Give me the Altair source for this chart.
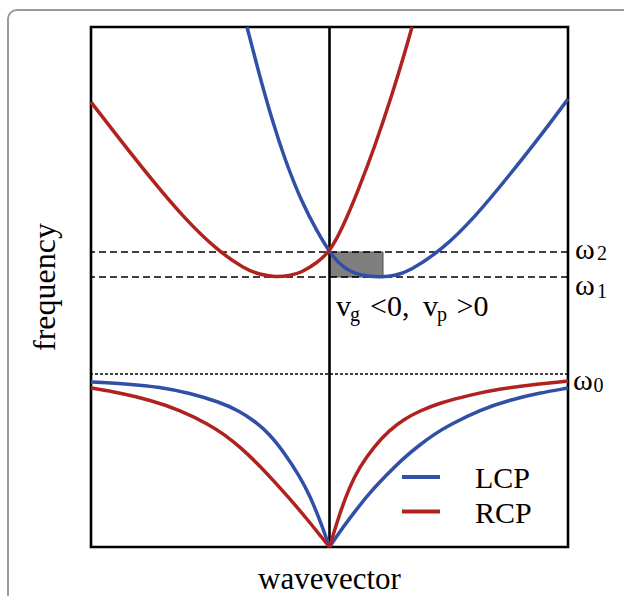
import altair as alt
import pandas as pd

# ---- curve readings (k = wavevector, w = frequency, arbitrary units) ----
lcp_up_k = [-82.5, -71.5, -57.5, -44.5, -27.5, -11.5, 0, 10, 20, 30, 40, 52.5, 65, 78.5, 112.5, 145.5, 178.5, 212.5, 238.5]
lcp_up_w = [520, 477, 427, 387, 344, 314, 295, 283, 276, 272.3, 270.5, 270, 271.5, 275, 297, 330, 370, 413, 448]

rcp_up_k = [-238.5, -211.5, -177.5, -144.5, -111.5, -84.5, -70, -54.5, -40, -28, -12.8, 0, 12.5, 28.5, 45.5, 62.5, 75.5, 82.5]
rcp_up_w = [445, 410, 367, 328, 296, 278, 272.5, 270, 271.2, 274.5, 284, 295, 318, 356, 401, 452, 495, 520]

lcp_lo_left_k = [-238.5, -200, -170, -140, -110, -90, -75, -60, -45, -30, -20, -10, 0]
lcp_lo_left_w = [165, 163, 160, 154, 145, 136, 126, 113, 94, 71, 52, 28, 0]
lcp_lo_right_k = [0, 10, 25, 40, 57, 73, 90, 105, 120, 150, 180, 210, 238.5]
lcp_lo_right_w = [0, 15, 35, 54, 72, 88, 102, 113, 122, 137, 147, 154, 159]

rcp_lo_left_k = [-238.5, -209.5, -179.5, -149.5, -119.5, -104.5, -89.5, -72.5, -56.5, -39.5, -22.5, -6.5, 0]
rcp_lo_left_w = [159, 154, 147, 137, 122, 112, 100, 84, 67, 48, 28, 8, 0]
rcp_lo_right_k = [0, 10, 20, 30, 45, 60, 75, 90, 110, 140, 170, 200, 238.5]
rcp_lo_right_w = [0, 33, 60, 80, 101, 117, 128, 136, 144, 152, 158, 162, 166]

# characteristic frequencies
omega_names = ["ω2", "ω1", "ω0"]
omega_values = [295, 270, 173]

# group-velocity box (between k=0 and LCP minimum, between ω1 and ω2)
box_k = [0, 53.5]
box_w = [270, 295]

series = ["LCP", "RCP"]
colors = ["#3050a8", "#b0221e"]

rows = []
def add(name, seg, ks, ws):
    for k, w in zip(ks, ws):
        rows.append({"k": k, "w": w, "pol": name, "seg": seg})

add("LCP", "LCP_up", lcp_up_k, lcp_up_w)
add("RCP", "RCP_up", rcp_up_k, rcp_up_w)
add("LCP", "LCP_lo_l", lcp_lo_left_k, lcp_lo_left_w)
add("LCP", "LCP_lo_r", lcp_lo_right_k, lcp_lo_right_w)
add("RCP", "RCP_lo_l", rcp_lo_left_k, rcp_lo_left_w)
add("RCP", "RCP_lo_r", rcp_lo_right_k, rcp_lo_right_w)
curves = pd.DataFrame(rows)

xs = alt.Scale(domain=[-238.5, 238.5], nice=False, zero=False)
ys = alt.Scale(domain=[0, 520], nice=False, zero=False)
X = lambda f: alt.X(f, type="quantitative", scale=xs, axis=None)
Y = lambda f: alt.Y(f, type="quantitative", scale=ys, axis=None)
color = alt.Color("pol:N", scale=alt.Scale(domain=series, range=colors), legend=None)

FONT = "Liberation Serif"

# outer figure frame (decoration)
frame = alt.Chart(alt.Data(values=[{}])).mark_rect(
    fillOpacity=0, stroke="#9a9a9a", strokeWidth=2, cornerRadius=9
).encode(x=alt.value(-83), x2=alt.value(560), y=alt.value(-17), y2=alt.value(600))

box = alt.Chart(pd.DataFrame({"k1": [box_k[0]], "k2": [box_k[1]], "w1": [box_w[0]], "w2": [box_w[1]]})).mark_rect(
    fill="#7f7f7f", stroke="#505050", strokeWidth=1
).encode(x=X("k1"), x2="k2", y=Y("w1"), y2="w2")

levels = pd.DataFrame({"name": omega_names, "w": omega_values})
dashed = alt.Chart(levels[levels["name"] != "ω0"]).mark_rule(
    color="black", strokeWidth=1.6, strokeDash=[7, 4]
).encode(y=Y("w"))
dotted = alt.Chart(levels[levels["name"] == "ω0"]).mark_rule(
    color="black", strokeWidth=1.5, strokeDash=[3, 2]
).encode(y=Y("w"))

center = alt.Chart(pd.DataFrame({"k": [0]})).mark_rule(color="black", strokeWidth=2.6).encode(x=X("k"))

lines = alt.Chart(curves).mark_line(strokeWidth=3.5, interpolate="basis").encode(
    x=X("k"), y=Y("w"), color=color, detail="seg:N", order="k:Q"
)

# legend drawn inside the plot
leg = pd.DataFrame({"pol": series, "k1": [72.5, 72.5], "k2": [110.5, 110.5], "w": [70, 35.5],
                    "tk": [145.5, 145.5], "tw": [59, 24]})
leg_lines = alt.Chart(leg).mark_rule(strokeWidth=4).encode(x=X("k1"), x2="k2", y=Y("w"), color=color)
leg_text = alt.Chart(leg).mark_text(font=FONT, fontSize=30, align="left", baseline="alphabetic", color="black").encode(
    x=X("tk"), y=Y("tw"), text="pol:N"
)

# annotations: main-size glyphs and subscripts
main_txt = pd.DataFrame({
    "t": ["ω", "ω", "ω", "v", "<0,", "v", ">0"],
    "k": [245.5, 245.5, 243.5, 6.5, 40.5, 93.5, 127],
    "w": [288, 252, 157, 231, 231, 231, 231],
})
sub_txt = pd.DataFrame({
    "t": ["2", "1", "0", "g", "p"],
    "k": [267.5, 267.5, 264, 20.5, 107.5],
    "w": [287, 249, 155, 226, 226],
})
main_layer = alt.Chart(main_txt).mark_text(font=FONT, fontSize=30, align="left", baseline="alphabetic", color="black").encode(
    x=X("k"), y=Y("w"), text="t:N"
)
sub_layer = alt.Chart(sub_txt).mark_text(font=FONT, fontSize=20, align="left", baseline="alphabetic", color="black").encode(
    x=X("k"), y=Y("w"), text="t:N"
)

titles = pd.DataFrame({"t": ["wavevector"], "k": [0], "w": [-42]})
xtitle = alt.Chart(titles).mark_text(font=FONT, fontSize=31, align="center", baseline="alphabetic", color="black").encode(
    x=X("k"), y=Y("w"), text="t:N"
)
ytitle_df = pd.DataFrame({"t": ["frequency"], "k": [-274.5], "w": [260]})
ytitle = alt.Chart(ytitle_df).mark_text(font=FONT, fontSize=32, align="center", baseline="alphabetic", angle=270, color="black").encode(
    x=X("k"), y=Y("w"), text="t:N"
)

chart = alt.layer(
    frame, box, dashed, dotted, center, lines, leg_lines, leg_text, main_layer, sub_layer, xtitle, ytitle
).properties(
    width=477, height=520,
    padding={"left": 91, "top": 27, "right": 56, "bottom": 49},
    autosize=alt.AutoSizeParams(type="none"),
    background="white",
).configure_view(stroke="black", strokeWidth=2.6)

chart.save("out.html", embed_options={"renderer": "svg", "actions": False})
